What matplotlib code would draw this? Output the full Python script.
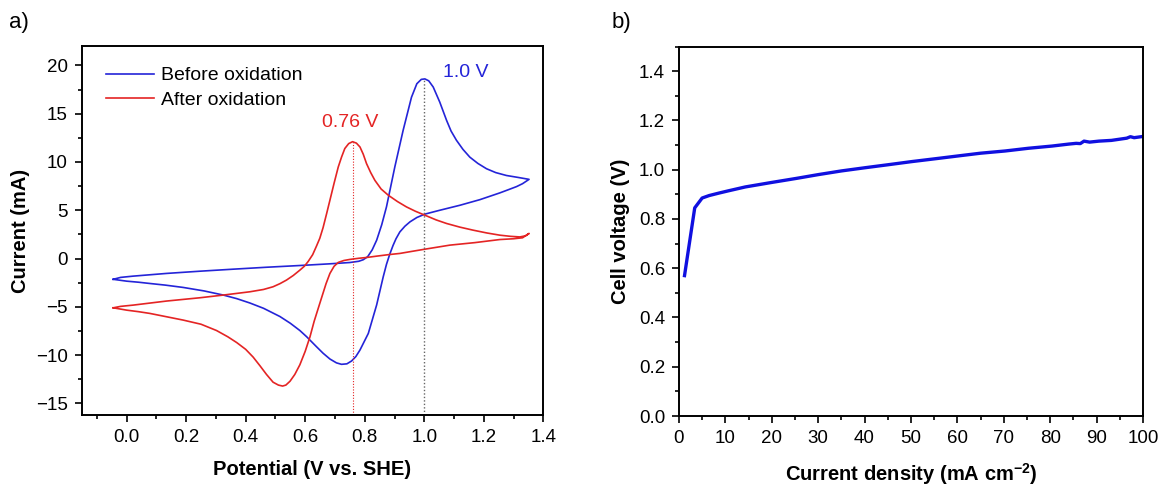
import matplotlib
matplotlib.use("Agg")
import matplotlib.pyplot as plt
from matplotlib.ticker import MultipleLocator

plt.rcParams["font.family"] = ["Liberation Sans", "DejaVu Sans"]
plt.rcParams["mathtext.fontset"] = "custom"
plt.rcParams["mathtext.bf"] = "Liberation Sans:bold"
plt.rcParams["mathtext.rm"] = "Liberation Sans"

# panel a: cyclic voltammograms (potential V vs SHE, current mA)
before_x = [-0.045, -0.02, 0.022, 0.134, 0.246, 0.358, 0.47, 0.582, 0.68, 0.75,
            0.78, 0.795, 0.81, 0.825, 0.84, 0.857, 0.873, 0.901, 0.929, 0.957,
            0.975, 0.99, 1.002, 1.015, 1.03, 1.052, 1.075, 1.09, 1.108, 1.13,
            1.153, 1.18, 1.209, 1.24, 1.276, 1.315, 1.352, 1.33, 1.31, 1.28,
            1.254, 1.187, 1.12, 1.052, 1.002, 0.975, 0.952, 0.935, 0.918, 0.905,
            0.895, 0.884, 0.873, 0.862, 0.84, 0.812, 0.784, 0.77, 0.756, 0.74,
            0.722, 0.705, 0.683, 0.66, 0.638, 0.605, 0.582, 0.55, 0.515, 0.46,
            0.414, 0.37, 0.325, 0.26, 0.19, 0.13, 0.078, 0.04, 0.0, -0.045]
before_y = [-2.15, -1.95, -1.82, -1.54, -1.31, -1.10, -0.9, -0.72, -0.55, -0.41,
            -0.28, -0.12, 0.2, 0.9, 1.9, 3.5, 5.35, 9.48, 13.28, 16.7,
            18.1, 18.55, 18.6, 18.4, 17.76, 16.2, 14.3, 13.2, 12.25, 11.3,
            10.5, 9.85, 9.3, 8.9, 8.6, 8.4, 8.2, 7.75, 7.45, 7.1,
            6.8, 6.1, 5.52, 5.0, 4.6, 4.25, 3.8, 3.35, 2.76, 2.05,
            1.35, 0.45, -0.6, -1.9, -4.8, -7.75, -9.47, -10.15, -10.6, -10.9,
            -10.95, -10.8, -10.4, -9.8, -9.13, -8.1, -7.45, -6.7, -6.0, -5.15,
            -4.6, -4.15, -3.78, -3.35, -2.99, -2.75, -2.58, -2.45, -2.34, -2.15]

after_x = [-0.045, -0.02, 0.022, 0.134, 0.246, 0.325, 0.414, 0.46, 0.492, 0.515,
           0.537, 0.56, 0.582, 0.597, 0.61, 0.625, 0.638, 0.649, 0.66, 0.672,
           0.683, 0.697, 0.711, 0.722, 0.733, 0.746, 0.759, 0.772, 0.784, 0.795,
           0.806, 0.82, 0.834, 0.855, 0.879, 0.91, 0.94, 0.97, 1.002, 1.04,
           1.075, 1.12, 1.164, 1.21, 1.254, 1.29, 1.321, 1.34, 1.352, 1.33,
           1.3, 1.254, 1.17, 1.086, 1.002, 0.95, 0.918, 0.884, 0.84, 0.806,
           0.78, 0.75, 0.73, 0.711, 0.697, 0.683, 0.67, 0.649, 0.63, 0.616,
           0.6, 0.582, 0.565, 0.549, 0.535, 0.524, 0.51, 0.492, 0.47, 0.448,
           0.425, 0.40, 0.37, 0.34, 0.302, 0.25, 0.19, 0.13, 0.078, 0.04, 0.0,
           -0.045]
after_y = [-5.1, -4.95, -4.82, -4.4, -4.06, -3.78, -3.44, -3.2, -2.92, -2.6,
           -2.23, -1.75, -1.2, -0.8, -0.3, 0.4, 1.3, 2.1, 3.2, 4.66,
           6.04, 7.8, 9.48, 10.5, 11.39, 11.9, 12.1, 11.95, 11.55, 10.8,
           9.83, 8.9, 8.1, 7.2, 6.56, 5.9, 5.35, 4.9, 4.49, 4.0,
           3.63, 3.25, 2.94, 2.65, 2.42, 2.3, 2.24, 2.35, 2.6, 2.15,
           2.05, 1.97, 1.65, 1.39, 0.97, 0.7, 0.53, 0.42, 0.25, 0.11,
           0.03, -0.09, -0.2, -0.4, -0.8, -1.54, -2.6, -4.64, -6.5, -8.1,
           -9.6, -11.0, -12.0, -12.7, -13.1, -13.2, -13.1, -12.8, -12.0, -11.1,
           -10.2, -9.4, -8.7, -8.1, -7.45, -6.8, -6.37, -6.0, -5.68, -5.5, -5.34,
           -5.1]

peak_before = 1.0
peak_after = 0.76
peak_before_i = 18.6
peak_after_i = 12.1

# panel b: polarization curve
density = [1.2, 3.4, 4.2, 5.0, 6.5, 8.6, 10.6, 14.3, 19.9, 25.4, 30, 35, 40.1,
           45, 50.2, 55.9, 60.2, 65, 70.3, 75.3, 80.4, 84, 85.6, 86.5, 87.3,
           88.5, 90.5, 93.2, 96.5, 97.3, 98.1, 100]
voltage = [0.57, 0.845, 0.865, 0.885, 0.895, 0.905, 0.914, 0.93, 0.948, 0.965,
           0.980, 0.995, 1.008, 1.020, 1.033, 1.046, 1.056, 1.067, 1.076, 1.087,
           1.096, 1.104, 1.107, 1.106, 1.116, 1.112, 1.116, 1.119, 1.128, 1.134,
           1.130, 1.135]

BLUE = "#2424d8"
RED = "#e42424"

fig = plt.figure(figsize=(11.6, 4.9), dpi=100)
ax1 = fig.add_axes([0.0704, 0.153, 0.398, 0.753])
ax2 = fig.add_axes([0.5853, 0.151, 0.4, 0.754])


def style(ax):
    for s in ax.spines.values():
        s.set_linewidth(1.4)
    ax.tick_params(which="both", direction="out", top=False, right=False,
                   labelsize=13.5, width=1.2)
    ax.tick_params(which="major", length=5, pad=5)
    ax.tick_params(which="minor", length=3)


ax1.plot(before_x, before_y, color=BLUE, lw=1.2, label="Before oxidation")
ax1.plot(after_x, after_y, color=RED, lw=1.2, label="After oxidation")
ax1.plot([peak_before, peak_before], [-16.2, peak_before_i], color="#666666",
         lw=1.0, ls=(0, (1, 1.5)))
ax1.plot([peak_after, peak_after], [-16.2, peak_after_i], color=RED,
         lw=0.8, ls=(0, (1, 1.5)))
ax1.text(1.14, 19.3, "1.0 V", color=BLUE, fontsize=14, ha="center", va="center")
ax1.text(0.75, 14.1, "0.76 V", color=RED, fontsize=14, ha="center", va="center")
ax1.set_xlim(-0.151, 1.4)
ax1.set_ylim(-16.2, 22)
ax1.xaxis.set_minor_locator(MultipleLocator(0.1))
ax1.yaxis.set_minor_locator(MultipleLocator(2.5))
ax1.set_xticks([0.0, 0.2, 0.4, 0.6, 0.8, 1.0, 1.2, 1.4])
ax1.set_yticks([-15, -10, -5, 0, 5, 10, 15, 20])
style(ax1)
ax1.set_xlabel("Potential (V vs. SHE)", fontsize=14.5, fontweight="bold", labelpad=10)
ax1.set_ylabel("Current (mA)", fontsize=14.5, fontweight="bold", labelpad=4)
ax1.legend(loc="upper left", bbox_to_anchor=(0.035, 0.965), frameon=False,
           fontsize=14, handlelength=2.5, handletextpad=0.35, labelspacing=0.35,
           borderaxespad=0)

ax2.plot(density, voltage, color="#1010e0", lw=2.4)
ax2.set_xlim(0, 100)
ax2.set_ylim(0, 1.5)
ax2.xaxis.set_major_locator(MultipleLocator(10))
ax2.xaxis.set_minor_locator(MultipleLocator(5))
ax2.set_yticks([0.0, 0.2, 0.4, 0.6, 0.8, 1.0, 1.2, 1.4])
ax2.yaxis.set_minor_locator(MultipleLocator(0.1))
style(ax2)
ax2.set_xlabel(r"Current density (mA cm$^{\mathbf{-2}}$)", fontsize=14.5,
               fontweight="bold", labelpad=10)
ax2.set_ylabel("Cell voltage (V)", fontsize=14.5, fontweight="bold", labelpad=6)

fig.text(0.008, 0.955, "a)", fontsize=16, va="center")
fig.text(0.527, 0.955, "b)", fontsize=16, va="center")

fig.savefig("out.png", dpi=100)
